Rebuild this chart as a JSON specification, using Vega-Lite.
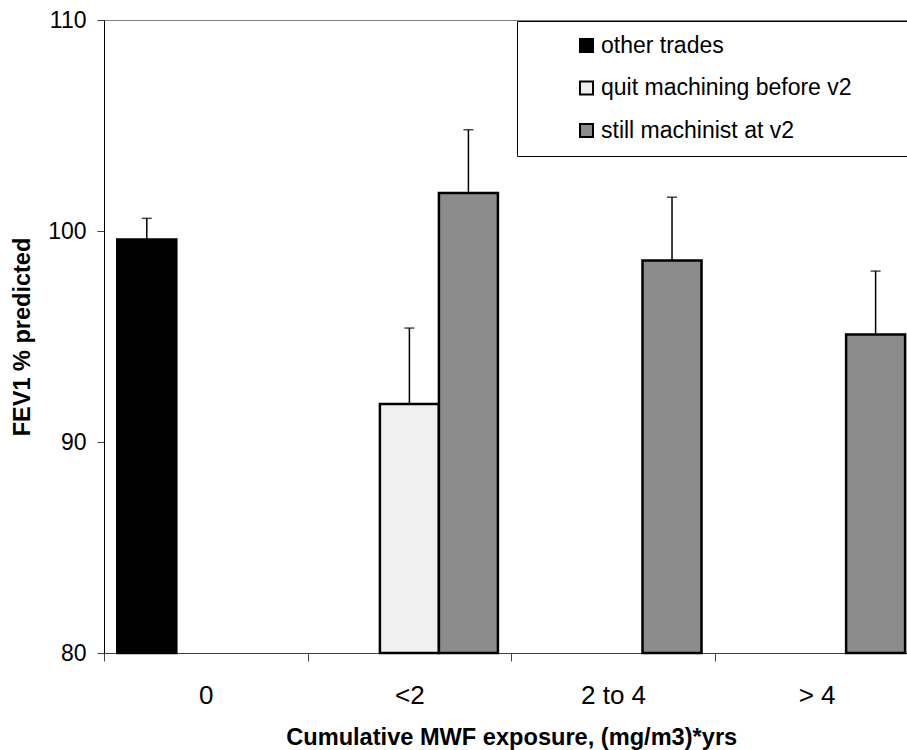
{
  "$schema": "https://vega.github.io/schema/vega-lite/v6.json",
  "width": 803,
  "height": 633,
  "autosize": {"type": "none"},
  "padding": {"left": 104, "top": 20, "right": 0, "bottom": 97},
  "background": "white",
  "config": {
    "view": {"stroke": null},
    "font": "Liberation Sans"
  },
  "data": {
    "values": [
      {"exposure": "0", "group": "other trades", "fev1": 99.6, "upper": 100.6},
      {"exposure": "<2", "group": "quit machining before v2", "fev1": 91.8, "upper": 95.4},
      {"exposure": "<2", "group": "still machinist at v2", "fev1": 101.8, "upper": 104.8},
      {"exposure": "2 to 4", "group": "still machinist at v2", "fev1": 98.6, "upper": 101.6},
      {"exposure": "> 4", "group": "still machinist at v2", "fev1": 95.1, "upper": 98.1}
    ]
  },
  "encoding": {
    "x": {
      "field": "exposure",
      "type": "nominal",
      "sort": ["0", "<2", "2 to 4", "> 4"],
      "scale": {"range": [0, 814.4], "paddingInner": 0, "paddingOuter": 0},
      "title": "Cumulative MWF exposure, (mg/m3)*yrs",
      "axis": {
        "tickBand": "extent",
        "tickSize": 8,
        "labelFontSize": 26,
        "labelPadding": 34.5,
        "labelBaseline": "middle",
        "labelAngle": 0,
        "labelColor": "black",
        "domainColor": "#404040",
        "tickColor": "#404040",
        "titleFontSize": 23.6,
        "titleFontWeight": "bold",
        "titleColor": "black",
        "titleBaseline": "middle",
        "titleY": 84
      }
    },
    "xOffset": {
      "field": "group",
      "type": "nominal",
      "scale": {
        "domain": ["other trades", "quit machining before v2", "still machinist at v2"],
        "paddingInner": 0,
        "paddingOuter": 0.225
      }
    }
  },
  "layer": [
    {
      "mark": {"type": "bar", "stroke": "black", "strokeWidth": 2.5},
      "encoding": {
        "y": {
          "field": "fev1",
          "type": "quantitative",
          "scale": {"domain": [80, 110], "nice": false, "zero": false},
          "title": "FEV1 % predicted",
          "axis": {
            "values": [80, 90, 100, 110],
            "tickSize": 7,
            "labelPadding": 11,
            "labelFontSize": 23,
            "labelColor": "black",
            "domainColor": "black",
            "tickColor": "#404040",
            "grid": true,
            "gridColor": "#808080",
            "gridOpacity": {"condition": {"test": "datum.value === 110", "value": 1}, "value": 0},
            "titleFontSize": 23.5,
            "titleFontWeight": "bold",
            "titleColor": "black",
            "titleBaseline": "middle",
            "titleX": -81.5,
            "titleY": 316.5
          }
        },
        "y2": {"datum": 80},
        "fill": {
          "field": "group",
          "type": "nominal",
          "scale": {
            "domain": ["other trades", "quit machining before v2", "still machinist at v2"],
            "range": ["#000000", "#f0f0f0", "#8c8c8c"]
          },
          "legend": {
            "orient": "none",
            "legendX": 413,
            "legendY": 1,
            "title": ".",
            "titleOrient": "right",
            "titleOpacity": 0,
            "titlePadding": 50,
            "strokeColor": "black",
            "fillColor": "white",
            "padding": 13,
            "symbolType": "square",
            "symbolSize": 169,
            "symbolStrokeColor": "black",
            "symbolStrokeWidth": 2,
            "symbolOffset": 45,
            "labelOffset": 3,
            "labelFontSize": 23,
            "labelColor": "black",
            "labelLimit": 1000,
            "rowPadding": 18.5
          }
        }
      }
    },
    {
      "mark": {"type": "rule", "strokeWidth": 1.5, "color": "black"},
      "encoding": {
        "y": {"field": "fev1", "type": "quantitative"},
        "y2": {"field": "upper"}
      }
    },
    {
      "mark": {"type": "tick", "thickness": 1.5, "size": 10, "color": "black"},
      "encoding": {
        "y": {"field": "upper", "type": "quantitative"}
      }
    }
  ]
}
